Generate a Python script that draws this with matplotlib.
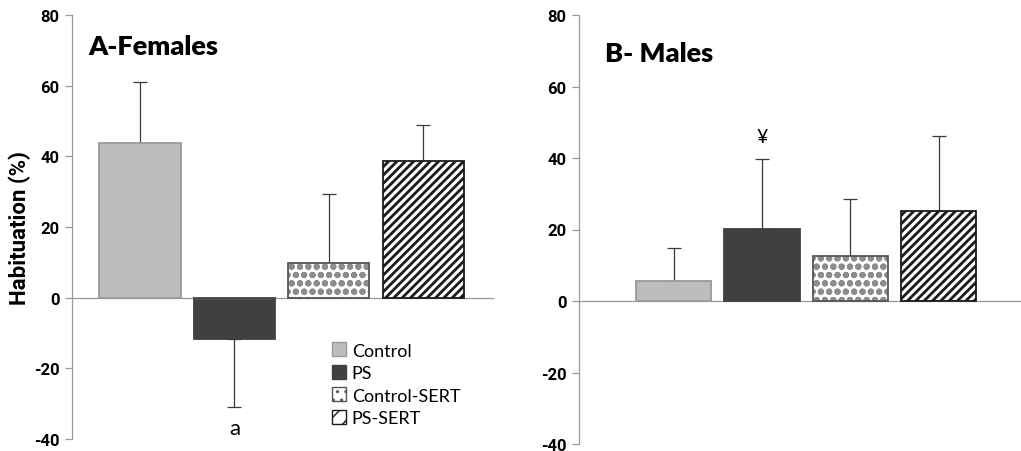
import matplotlib
matplotlib.use("Agg")
import matplotlib.pyplot as plt
import numpy as np

# ---- data ----
groups = ["Control", "PS", "Control-SERT", "PS-SERT"]
females_mean = [43.7, -11.6, 9.9, 38.6]
females_sem = [17.3, 19.3, 19.3, 10.2]
males_mean = [5.6, 20.1, 12.6, 25.2]
males_sem = [9.2, 19.7, 16.0, 21.0]
yticks = [-40, -20, 0, 20, 40, 60, 80]
panel_titles = ["A-Females", "B- Males"]
female_marks = {1: "a"}
male_marks = {1: "¥"}

plt.rcParams['font.family'] = ['Lato', 'DejaVu Sans']
BOLDFONT = ['Roboto', 'DejaVu Sans']

fig = plt.figure(figsize=(10.21, 4.52), dpi=100)
axA = fig.add_axes([72/1021, 1-440/452, 421/1021, 424/452])
axB = fig.add_axes([579/1021, 1-445/452, 442/1021, 429/452])

styles = [
    dict(fc="#bdbdbd", ec="#9a9a9a", hatch=None),
    dict(fc="#404040", ec="#404040", hatch=None),
    dict(fc="white", ec="#8c8c8c", hatch="oo"),
    dict(fc="white", ec="#1a1a1a", hatch="////"),
]
border = ["#9a9a9a", "#404040", "#555555", "#1a1a1a"]

def draw(ax, means, sems, width, xlim, title, tx, ty, marks, mark_y, mark_size):
    x = np.arange(len(means))
    for i, (m, s) in enumerate(zip(means, sems)):
        st = styles[i]
        with plt.rc_context({'hatch.linewidth': 2.0 if st['hatch'] == '////' else 2.1}):
            ax.bar(x[i], m, width=width, color=st['fc'], edgecolor=st['ec'],
                   hatch=st['hatch'], linewidth=0, zorder=2)
        ax.bar(x[i], m, width=width, color='none', edgecolor=border[i],
               linewidth=1.3, zorder=3)
        lo = s if m < 0 else 0
        hi = s if m >= 0 else 0
        ax.errorbar(x[i], m, yerr=[[lo], [hi]], fmt='none', ecolor='#3a3a3a',
                    elinewidth=0.9, capsize=5, capthick=0.9, zorder=1)
    ax.set_xlim(*xlim)
    ax.set_ylim(-40, 80)
    ax.set_yticks(yticks)
    ax.set_yticklabels([str(t) for t in yticks])
    ax.tick_params(axis='y', direction='out', length=5, color='#9a9a9a', width=0.9,
                   pad=4, labelsize=12, labelfontfamily='Roboto')
    for lab in ax.get_yticklabels():
        lab.set_fontweight('bold')
    ax.tick_params(axis='x', bottom=False, labelbottom=False)
    for sp in ['top', 'right']:
        ax.spines[sp].set_visible(False)
    ax.spines['left'].set_color('#9a9a9a')
    ax.spines['bottom'].set_color('#9a9a9a')
    ax.spines['bottom'].set_position(('data', 0))
    ax.spines['left'].set_linewidth(0.9)
    ax.spines['bottom'].set_linewidth(0.9)
    ax.text(tx, ty, title, transform=ax.transAxes, fontsize=19.5,
            fontweight='heavy', va='baseline', ha='left')
    for k, lab in marks.items():
        ax.text(x[k], mark_y, lab, ha='center', va='center', fontsize=mark_size)
    ax.patch.set_visible(False)

draw(axA, females_mean, females_sem, 0.86, (-0.72, 3.74), panel_titles[0],
     0.038, 0.908, female_marks, -37, 16)
draw(axB, males_mean, males_sem, 0.85, (-1.07, 3.93), panel_titles[1],
     0.059, 0.893, male_marks, 14 + 32, 14)

fig.text(20/1021, 1-228/452, "Habituation (%)", rotation=90, fontsize=16,
         fontweight='bold', family=BOLDFONT, ha='center', va='center')

# legend
from matplotlib.patches import Patch
handles = []
for i, g in enumerate(groups):
    st = styles[i]
    handles.append(Patch(facecolor=st['fc'], edgecolor=border[i],
                         hatch=('//' if st['hatch'] == '////' else ('..' if st['hatch'] else None)),
                         linewidth=1, label=g))
leg = axA.legend(handles=handles, loc='upper left', bbox_to_anchor=(0.6, 0.245),
                 frameon=False, fontsize=13, handlelength=0.8, handleheight=0.8,
                 handletextpad=0.3, labelspacing=0.35, borderaxespad=0)

fig.canvas.draw()
for ax in (axA, axB):
    for lab in ax.get_yticklabels():
        lab.set_fontweight('bold')
        lab.set_fontfamily(BOLDFONT)
        lab.set_fontsize(12)

fig.savefig("out.png", dpi=100)
